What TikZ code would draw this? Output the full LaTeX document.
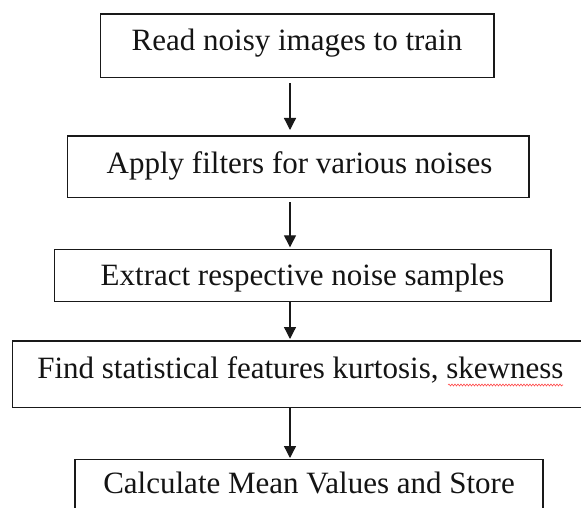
\documentclass[tikz,border=0pt]{standalone}
\usepackage{fontspec}
\setmainfont{Liberation Serif}
\usetikzlibrary{arrows.meta,calc,decorations.pathmorphing}
\begin{document}
\begin{tikzpicture}[x=1pt,y=-1pt,
  box/.style={draw=black!90,line width=1.5pt,rectangle,inner sep=0pt,outer sep=0pt},
  lbl/.style={anchor=base west,inner sep=0pt,outer sep=0pt,text=black!92,font=\fontsize{31}{36}\selectfont},
  arr/.style={draw=black!90,line width=1.3pt,-{Triangle[width=12pt,length=12pt]}}]
\useasboundingbox (0,0) rectangle (581,508);
\clip (0,0) rectangle (581,508);
\fill[white] (0,0) rectangle (581,508);
% boxes
\node[box,minimum width=393.3pt,minimum height=63.3pt] (b1) at (297.35,45.65) {};
\node[box,minimum width=461.3pt,minimum height=61.5pt] (b2) at (298.35,166.75) {};
\node[box,minimum width=496.7pt,minimum height=52.4pt] (b3) at (302.65,275.5) {};
\node[box,minimum width=577.3pt,minimum height=66.7pt] (b4) at (301.35,374.35) {};
\node[box,minimum width=468pt,minimum height=70.3pt] (b5) at (309,494.85) {};
% texts
\node[lbl] (t1) at (131.7,51) {Read noisy images to train};
\node[lbl] (t2) at (106.7,173.3) {Apply filters for various noises};
\node[lbl] (t3) at (100.7,285) {Extract respective noise samples};
\node[lbl] (t4) at (37.3,378.3) {Find statistical features kurtosis, skewness};
\node[lbl] (t5) at (103.3,493.3) {Calculate Mean Values and Store};
% spell-check underline
\coordinate (w1) at (448,385);
\coordinate (w2) at (563,385);
\draw[red!70,line width=0.6pt,decorate,decoration={snake,amplitude=1pt,segment length=3pt}] (w1) -- (w2);
% arrows
\coordinate (ax) at (290,0);
\draw[arr] ($(b1.south -| ax)+(0,6)$) -- ($(b2.north -| ax)+(0,-6)$);
\draw[arr] ($(b2.south -| ax)+(0,4.8)$) -- ($(b3.north -| ax)+(0,-2)$);
\draw[arr] ($(b3.south -| ax)+(0,0.3)$) -- ($(b4.north -| ax)+(0,-2)$);
\draw[arr] (b4.south -| ax) -- ($(b5.north -| ax)+(0,-1.7)$);
\end{tikzpicture}
\end{document}
